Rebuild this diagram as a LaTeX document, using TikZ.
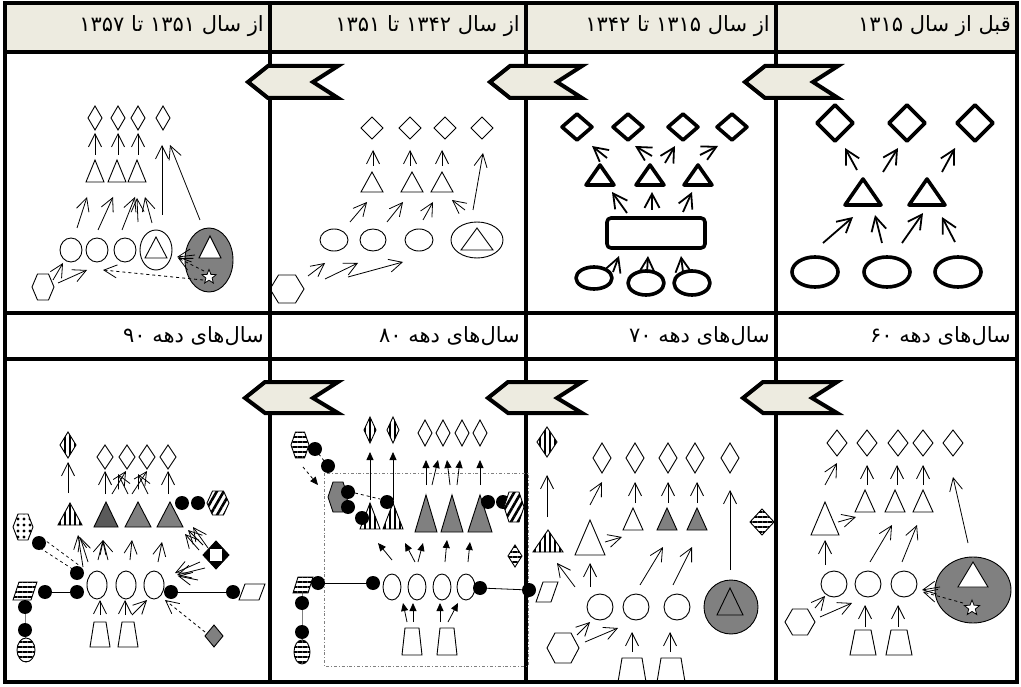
\documentclass[tikz,border=0pt]{standalone}
\usepackage{fontspec}
\newfontfamily\arabicfont[Script=Arabic]{DejaVu Sans}
\TeXXeTstate=1
\usetikzlibrary{arrows.meta,shapes.geometric,patterns.meta}
\definecolor{beige}{RGB}{237,235,224}
\definecolor{gmid}{RGB}{128,128,128}
\definecolor{gdark}{RGB}{90,90,90}
\newcommand{\pDia}[5][]{\draw[#1] ({#2-#4},#3) -- (#2,{#3-#5}) -- ({#2+#4},#3) -- (#2,{#3+#5}) -- cycle;}
\newcommand{\pTri}[5][]{\draw[#1] (#2,#3) -- ({#2+#5},#4) -- ({#2-#5},#4) -- cycle;}
\newcommand{\pEll}[5][]{\draw[#1] (#2,#3) ellipse [x radius=#4pt, y radius=#5pt];}
\newcommand{\pHex}[5][]{\draw[#1] ({#2-#4},#3) -- ({#2-#4/2},{#3-#5}) -- ({#2+#4/2},{#3-#5}) -- ({#2+#4},#3) -- ({#2+#4/2},{#3+#5}) -- ({#2-#4/2},{#3+#5}) -- cycle;}
\newcommand{\pTrap}[6][]{\draw[#1] ({#2-#5},#3) -- ({#2+#5},#3) -- ({#2+#6},#4) -- ({#2-#6},#4) -- cycle;}
\newcommand{\pPar}[6][]{\draw[#1] ({#2-#4},{#3+#5}) -- ({#2-#4+#6},{#3-#5}) -- ({#2+#4},{#3-#5}) -- ({#2+#4-#6},{#3+#5}) -- cycle;}
\newcommand{\pDot}[2]{\fill (#1,#2) circle [radius=7pt];}
\newcommand{\pChev}[5]{\draw[chevS] (#1,#5) -- ({#1+20},#3) -- (#2,#3) -- ({#2-25},#5) -- (#2,#4) -- ({#1+20},#4) -- cycle;}
\begin{document}
\begin{tikzpicture}[x=1pt,y=-1pt,
  thickS/.style={line width=3.6pt, line join=round},
  thinS/.style={line width=0.9pt},
  chevS/.style={line width=4pt, fill=beige, line join=miter},
  gridS/.style={line width=4pt},
  tarr/.style={line width=1.8pt, -{Straight Barb[length=14pt,width=15pt]}},
  oarr/.style={line width=0.8pt, -{Straight Barb[length=13pt,width=13pt]}},
  farr/.style={line width=0.8pt, -{Triangle[length=8pt,width=7pt]}},
  vstripe/.style={thinS, preaction={fill=white}, pattern={Lines[angle=90,distance=5pt,line width=2.2pt]}},
  hstripe/.style={thinS, preaction={fill=white}, pattern={Lines[angle=0,distance=5pt,line width=2.2pt]}},
  dstripe/.style={thinS, preaction={fill=white}, pattern={Lines[angle=60,distance=6pt,line width=2.6pt]}},
  dotfill/.style={thinS, preaction={fill=white}, pattern={Dots[distance=6pt,radius=1.7pt]}},
  hdr/.style={anchor=east, inner sep=0pt, font=\arabicfont\fontsize{21}{24}\selectfont}]
\useasboundingbox (0,0) rectangle (1021,687);
\fill[white] (0,0) rectangle (1021,687);
% header fills
\fill[beige] (5,3) rectangle (1017,52);
% grid
\draw[gridS] (5,3) rectangle (1017,682);
\draw[gridS] (5,52) -- (1017,52);
\draw[gridS] (5,313) -- (1017,313);
\draw[gridS] (5,359) -- (1017,359);
\foreach \xx in {270,526,776} \draw[gridS] (\xx,3) -- (\xx,682);
% headers
\node[hdr] (h1) at (1011,26) {\beginR قبل از سال \beginL۱۳۱۵\endL\endR};
\node[hdr] (h2) at (770,26) {\beginR از سال \beginL۱۳۱۵\endL{} تا \beginL۱۳۴۲\endL\endR};
\node[hdr] (h3) at (520,26) {\beginR از سال \beginL۱۳۴۲\endL{} تا \beginL۱۳۵۱\endL\endR};
\node[hdr] (h4) at (264,26) {\beginR از سال \beginL۱۳۵۱\endL{} تا \beginL۱۳۵۷\endL\endR};
\node[hdr] (h5) at (1011,336) {\beginR سال‌های دهه \beginL۶۰\endL\endR};
\node[hdr] (h6) at (770,336) {\beginR سال‌های دهه \beginL۷۰\endL\endR};
\node[hdr] (h7) at (520,336) {\beginR سال‌های دهه \beginL۸۰\endL\endR};
\node[hdr] (h8) at (264,336) {\beginR سال‌های دهه \beginL۹۰\endL\endR};

% ===== Panel A =====
\foreach \cx in {835,907,975} {\pDia[thickS]{\cx}{123}{18}{18}}
\pTri[thickS]{863}{179}{205}{18}
\pTri[thickS]{927}{179}{205}{18}
\foreach \cx in {815,887,958} {\pEll[thickS]{\cx}{272}{23}{15}}
\draw[tarr] (823,243) -- (853,217);
\draw[tarr] (882,243) -- (875,215);
\draw[tarr] (902,243) -- (923,213);
\draw[tarr] (955,242) -- (942,217);
\draw[tarr] (857,170) -- (845,148);
\draw[tarr] (883,172) -- (898,148);
\draw[tarr] (942,172) -- (955,148);

% ===== Panel B =====
\foreach \cx in {577,628,683,732} {\pDia[thickS]{\cx}{127}{15}{13}}
\foreach \cx in {600,650,698} {\pTri[thickS]{\cx}{165}{185}{14}}
\draw[thickS, rounded corners=4pt] (607,218) rectangle (705,248);
\pEll[thickS]{594}{278}{18}{11}
\pEll[thickS]{646}{283}{18}{12}
\pEll[thickS]{692}{283}{18}{12}
\draw[tarr] (613,272) -- (619,256);
\draw[tarr] (647,273) -- (648,256);
\draw[tarr] (683,272) -- (681,256);
\draw[tarr] (627,213) -- (612,192);
\draw[tarr] (652,210) -- (652,192);
\draw[tarr] (683,212) -- (692,192);
\draw[tarr] (607,158) -- (592,146);
\draw[tarr] (652,156) -- (635,146);
\draw[tarr] (665,163) -- (675,146);
\draw[tarr] (700,155) -- (718,146);

% ===== Panel C =====
\foreach \cx in {372,410,445,482} {\pDia[thinS]{\cx}{128}{11}{11}}
\foreach \cx in {372,412,442} {\pTri[thinS]{\cx}{172}{192}{11}}
\pEll[thinS]{334}{240}{14}{11}
\pEll[thinS]{373}{240}{13}{11}
\pEll[thinS]{419}{240}{14}{11}
\pEll[thinS]{477}{240}{26}{18}
\pTri[thinS]{477}{228}{250}{16}
\pHex[thinS]{287}{289}{17}{14}
\draw[oarr] (350,222) -- (367,202);
\draw[oarr] (387,222) -- (403,202);
\draw[oarr] (423,220) -- (433,202);
\draw[oarr] (465,210) -- (452,200);
\draw[oarr] (473,210) -- (483,153);
\draw[oarr] (373,166) -- (373,150);
\draw[oarr] (410,166) -- (410,150);
\draw[oarr] (442,166) -- (442,150);
\draw[oarr] (308,276) -- (325,263);
\draw[oarr] (325,279) -- (358,263);
\draw[oarr] (348,277) -- (403,262);

% ===== Panel D =====
\foreach \cx in {95,118,138,163} {\pDia[thinS]{\cx}{118}{7}{12}}
\foreach \cx in {95,117,137} {\pTri[thinS]{\cx}{160}{182}{9}}
\pEll[thinS]{71}{250}{11}{12}
\pEll[thinS]{97}{250}{11}{12}
\pEll[thinS]{125}{250}{11}{12}
\pEll[thinS]{156}{250}{16}{20}
\pTri[thinS]{156}{237}{258}{11}
\pEll[thinS, fill=gmid]{209}{260}{24}{32}
\pTri[thinS, fill=white]{210}{236}{258}{11}
\node[star, star points=5, star point ratio=2.3, draw, fill=white, inner sep=0pt, minimum size=15pt, line width=0.8pt] (starD) at (209,277) {};
\pHex[thinS]{43}{287}{11}{13}
\draw[oarr] (95,155) -- (95,133);
\draw[oarr] (118,155) -- (118,133);
\draw[oarr] (138,155) -- (138,133);
\draw[oarr] (162,215) -- (162,145);
\draw[oarr] (200,220) -- (170,145);
\draw[oarr] (77,228) -- (87,197);
\draw[oarr] (98,230) -- (113,197);
\draw[oarr] (122,230) -- (135,197);
\draw[oarr] (138,222) -- (137,198);
\draw[oarr] (152,223) -- (145,197);
\draw[oarr] (53,280) -- (63,263);
\draw[oarr] (58,283) -- (87,270);
\draw[oarr] (195,255) -- (177,257);
\draw[oarr, dashed] (204,271) -- (178,258);
\draw[oarr, dashed] (203,280) -- (103,270);

% ===== Panel E =====
\foreach \cx in {837,867,898,923,953} {\pDia[thinS]{\cx}{443}{10}{13}}
\foreach \cx in {865,895,923} {\pTri[thinS]{\cx}{490}{512}{10}}
\pTri[thinS]{825}{502}{535}{14}
\foreach \cx in {834,868,904} {\pEll[thinS]{\cx}{584}{13}{13}}
\pEll[thinS, fill=gmid]{973}{590}{38}{33}
\pTri[thinS, fill=white]{973}{562}{587}{15}
\node[star, star points=5, star point ratio=2.3, draw, fill=white, inner sep=0pt, minimum size=16pt, line width=0.8pt] (starE) at (972,608) {};
\pHex[thinS]{800}{622}{15}{13}
\pTrap[thinS]{863}{630}{655}{8}{13}
\pTrap[thinS]{899}{630}{655}{8}{13}
\draw[oarr] (825,485) -- (837,463);
\draw[oarr] (867,485) -- (867,465);
\draw[oarr] (897,485) -- (897,465);
\draw[oarr] (923,485) -- (923,465);
\draw[oarr] (968,543) -- (953,477);
\draw[oarr] (838,522) -- (856,517);
\draw[oarr] (825,565) -- (825,540);
\draw[oarr] (870,562) -- (892,525);
\draw[oarr] (902,562) -- (917,525);
\draw[oarr] (940,587) -- (922,590);
\draw[oarr, dashed] (963,603) -- (923,592);
\draw[oarr] (815,608) -- (825,596);
\draw[oarr] (820,617) -- (852,603);
\draw[oarr] (865,627) -- (865,605);
\draw[oarr] (898,627) -- (898,605);

% ===== Panel F =====
\foreach \cx in {602,635,668,695,730} {\pDia[thinS]{\cx}{458}{9}{15}}
\pDia[vstripe]{547}{442}{10}{15}
\pTri[thinS]{633}{508}{530}{10}
\pTri[thinS, fill=gmid]{667}{508}{530}{10}
\pTri[thinS, fill=gmid]{697}{508}{530}{10}
\pTri[thinS]{590}{520}{555}{15}
\pTri[vstripe]{548}{530}{552}{15}
\foreach \cx in {600,636,677} {\pEll[thinS]{\cx}{607}{13}{13}}
\pEll[thinS, fill=gmid]{731}{607}{27}{27}
\pTri[thinS]{730}{588}{615}{13}
\pHex[thinS]{563}{648}{16}{15}
\pTrap[thinS]{632}{658}{682}{10}{14}
\pTrap[thinS]{671}{658}{682}{10}{14}
\pPar[thinS, fill=white]{547}{592}{11}{10}{7}
\pDia[hstripe]{762}{522}{12}{13}
\draw[oarr] (547,517) -- (547,475);
\draw[oarr] (590,505) -- (602,482);
\draw[oarr] (635,503) -- (635,482);
\draw[oarr] (668,503) -- (668,482);
\draw[oarr] (697,503) -- (697,482);
\draw[oarr] (730,570) -- (730,490);
\draw[oarr] (605,542) -- (622,537);
\draw[oarr] (590,587) -- (590,563);
\draw[oarr] (575,587) -- (557,563);
\draw[oarr] (640,585) -- (663,547);
\draw[oarr] (673,585) -- (692,547);
\draw[oarr] (577,635) -- (590,622);
\draw[oarr] (585,642) -- (618,628);
\draw[oarr] (632,652) -- (632,632);
\draw[oarr] (670,652) -- (670,632);

% ===== Panel G =====
\draw[gray, line width=0.8pt, dash dot] (324,473) rectangle (528,666);
\pDia[vstripe]{370}{430}{6}{13}
\pDia[vstripe]{393}{430}{6}{13}
\foreach \cx in {425,443,462,480} {\pDia[thinS]{\cx}{433}{7}{13}}
\pTri[vstripe]{370}{503}{529}{10}
\pTri[vstripe]{393}{503}{529}{10}
\pTri[thinS, fill=gmid]{426}{495}{532}{11}
\pTri[thinS, fill=gmid]{452}{495}{532}{11}
\pTri[thinS, fill=gmid]{480}{495}{532}{12}
\foreach \cx in {392,417,442,466} {\pEll[thinS]{\cx}{587}{9}{13}}
\pTrap[thinS]{412}{628}{655}{7}{10}
\pTrap[thinS]{447}{628}{655}{7}{10}
\pHex[hstripe]{300}{445}{9}{13}
\pDot{315}{449}
\draw[dashed, line width=0.8pt] (315,449) -- (328,466);
\pDot{328}{466}
\draw[farr, dashed] (303,467) -- (318,485);
\pHex[thinS, fill=gmid]{338}{497}{10}{15}
\draw[dashed, line width=0.8pt] (355,493) -- (380,499);
\pDot{348}{492}
\pDot{348}{507}
\pDot{362}{518}
\pDot{387}{502}
\pDot{488}{502}
\pDot{503}{502}
\pHex[dstripe]{514}{507}{10}{15}
\pDia[hstripe]{515}{556}{7}{11}
\draw[line width=0.8pt] (318,583) -- (373,583);
\draw[gray, line width=1pt] (302,590) -- (302,645);
\pPar[hstripe]{303}{585}{10}{8}{5}
\pDot{318}{583}
\pDot{373}{583}
\pDot{302}{603}
\pDot{302}{632}
\pEll[hstripe]{302}{652}{8}{12}
\draw[line width=0.8pt] (480,588) -- (529,590);
\pDot{480}{588}
\pDot{529}{590}
\draw[farr] (370,500) -- (370,452);
\draw[farr] (393,500) -- (393,452);
\draw[farr] (426,485) -- (426,460);
\draw[farr] (432,485) -- (438,460);
\draw[farr] (450,485) -- (447,460);
\draw[farr] (457,485) -- (460,460);
\draw[farr] (480,485) -- (480,460);
\draw[farr] (392,560) -- (378,543);
\draw[farr] (415,562) -- (405,543);
\draw[farr] (418,562) -- (423,543);
\draw[farr] (445,562) -- (447,540);
\draw[farr] (468,562) -- (470,542);
\draw[farr] (407,622) -- (403,603);
\draw[farr] (413,622) -- (413,603);
\draw[farr] (440,622) -- (440,603);
\draw[farr] (448,622) -- (458,603);

% ===== Panel H =====
\pDia[vstripe]{68}{445}{8}{13}
\foreach \cx in {105,127,147,168} {\pDia[thinS]{\cx}{457}{8}{12}}
\pTri[vstripe]{70}{503}{525}{12}
\pTri[thinS, fill=gdark]{106}{502}{527}{12}
\pTri[thinS, fill=gmid]{138}{502}{527}{13}
\pTri[thinS, fill=gmid]{170}{502}{527}{13}
\pDot{182}{503}
\pDot{198}{503}
\pHex[dstripe]{218}{503}{11}{12}
\pHex[dotfill]{23}{527}{10}{13}
\draw[dashed, line width=0.7pt] (42,538) -- (80,566);
\draw[dashed, line width=0.7pt] (40,548) -- (74,570);
\pDot{39}{543}
\pDot{77}{573}
\draw[line width=0.8pt] (45,592) -- (77,592);
\pDot{77}{592}
\foreach \cx in {97,126,154} {\pEll[thinS]{\cx}{585}{10}{14}}
\draw[line width=0.8pt] (171,592) -- (233,592);
\pDot{171}{592}
\pDot{233}{592}
\pPar[thinS, fill=white]{252}{592}{13}{8}{6}
\draw[gray, line width=1pt] (25,600) -- (25,640);
\pPar[hstripe]{25}{591}{12}{9}{6}
\pDot{45}{592}
\pDot{25}{607}
\pDot{25}{630}
\pEll[hstripe]{26}{650}{9}{12}
\pDia[thinS, fill=black]{216}{555}{13}{14}
\fill[white] (210,549) rectangle (222,561);
\pDia[thinS, fill=gmid]{214}{636}{9}{11}
\pTrap[thinS]{100}{622}{647}{6}{10}
\pTrap[thinS]{128}{622}{647}{6}{10}
\draw[oarr] (68,493) -- (68,462);
\draw[oarr] (105,494) -- (105,471);
\draw[oarr] (112,494) -- (126,471);
\draw[oarr] (128,494) -- (118,474);
\draw[oarr] (132,494) -- (147,471);
\draw[oarr] (148,494) -- (138,474);
\draw[oarr] (168,494) -- (168,471);
\draw[oarr] (83,567) -- (78,535);
\draw[oarr] (88,562) -- (80,537);
\draw[oarr] (98,560) -- (103,540);
\draw[oarr] (108,560) -- (103,540);
\draw[oarr] (130,560) -- (132,540);
\draw[oarr] (158,562) -- (162,542);
\draw[oarr] (203,545) -- (188,530);
\draw[oarr] (208,548) -- (193,527);
\draw[oarr] (199,550) -- (185,534);
\draw[oarr] (200,562) -- (175,573);
\draw[oarr] (205,568) -- (177,575);
\draw[oarr] (198,580) -- (178,576);
\draw[oarr, dashed] (205,632) -- (165,600);
\draw[oarr] (100,615) -- (100,600);
\draw[oarr] (125,615) -- (125,600);
\draw[oarr] (132,615) -- (147,600);

% ===== chevrons =====
\pChev{745}{838}{66}{98}{82}
\pChev{490}{582}{66}{98}{82}
\pChev{248}{338}{66}{98}{82}
\pChev{743}{837}{382}{413}{398}
\pChev{488}{582}{382}{413}{398}
\pChev{245}{338}{382}{413}{398}
\end{tikzpicture}
\end{document}
